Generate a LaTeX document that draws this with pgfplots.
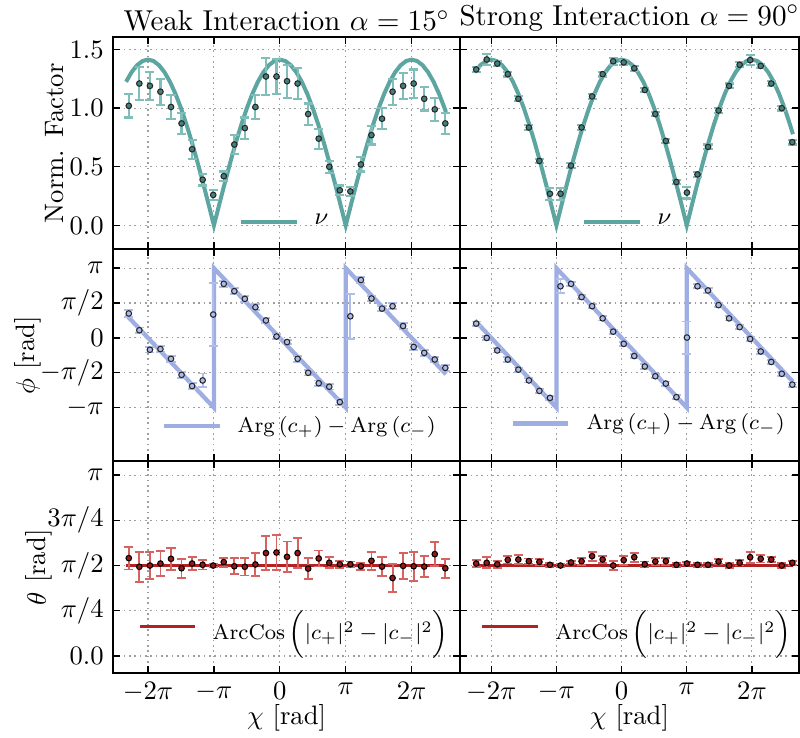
\documentclass[border=0pt]{standalone}
\usepackage{pgfplots}
\usepackage{pgfplotstable}
\pgfplotsset{compat=1.18}

\definecolor{TealLine}{RGB}{93,165,160}
\definecolor{TealBar}{RGB}{128,190,185}
\definecolor{TealMark}{RGB}{70,128,124}
\definecolor{ArgLine}{RGB}{158,174,226}
\definecolor{ArgBar}{RGB}{176,190,236}
\definecolor{ArgMark}{RGB}{175,188,232}
\definecolor{CosLine}{RGB}{178,34,34}
\definecolor{CosBar}{RGB}{214,98,98}
\definecolor{CosMark}{RGB}{150,25,25}
\definecolor{MarkEdge}{RGB}{40,40,40}

% nu = sqrt(2)|cos(chi/2)|, tabulated every pi/12
\pgfplotstableread{
x y
-7.3304 1.2247
-7.0686 1.3066
-6.8068 1.3660
-6.5450 1.4021
-6.2832 1.4142
-6.0214 1.4021
-5.7596 1.3660
-5.4978 1.3066
-5.2360 1.2247
-4.9742 1.1220
-4.7124 1.0000
-4.4506 0.8609
-4.1888 0.7071
-3.9270 0.5412
-3.6652 0.3660
-3.4034 0.1846
-3.1416 0.0000
-2.8798 0.1846
-2.6180 0.3660
-2.3562 0.5412
-2.0944 0.7071
-1.8326 0.8609
-1.5708 1.0000
-1.3090 1.1220
-1.0472 1.2247
-0.7854 1.3066
-0.5236 1.3660
-0.2618 1.4021
0.0000 1.4142
0.2618 1.4021
0.5236 1.3660
0.7854 1.3066
1.0472 1.2247
1.3090 1.1220
1.5708 1.0000
1.8326 0.8609
2.0944 0.7071
2.3562 0.5412
2.6180 0.3660
2.8798 0.1846
3.1416 0.0000
3.4034 0.1846
3.6652 0.3660
3.9270 0.5412
4.1888 0.7071
4.4506 0.8609
4.7124 1.0000
4.9742 1.1220
5.2360 1.2247
5.4978 1.3066
5.7596 1.3660
6.0214 1.4021
6.2832 1.4142
6.5450 1.4021
6.8068 1.3660
7.0686 1.3066
7.3304 1.2247
7.5922 1.1220
7.8540 1.0000
7.9200 0.9665
8.1158 0.8609
8.2600 0.7778
}\nucurve

% weak interaction: phi and theta in units of pi
\pgfplotstableread{
x n ne p pe t te
-7.200 1.02 0.10 0.35 0.05 0.541 0.063
-6.697 1.21 0.14 0.11 0.04 0.493 0.082
-6.194 1.19 0.12 -0.17 0.04 0.500 0.075
-5.691 1.14 0.11 -0.16 0.04 0.511 0.070
-5.188 1.01 0.10 -0.30 0.04 0.537 0.060
-4.685 0.87 0.09 -0.53 0.04 0.485 0.053
-4.182 0.65 0.08 -0.69 0.04 0.511 0.038
-3.679 0.39 0.05 -0.61 0.10 0.504 0.026
-3.176 0.26 0.04 0.335 0.45 0.500 0.010
-2.673 0.42 0.04 0.775 0.04 0.519 0.025
-2.170 0.69 0.08 0.67 0.04 0.496 0.044
-1.667 0.83 0.09 0.56 0.04 0.493 0.048
-1.164 1.01 0.10 0.44 0.04 0.506 0.063
-0.661 1.27 0.16 0.25 0.04 0.569 0.095
-0.158 1.27 0.15 0.02 0.03 0.572 0.096
0.345 1.23 0.14 -0.06 0.03 0.548 0.085
0.848 1.21 0.13 -0.30 0.04 0.569 0.085
1.351 0.95 0.09 -0.50 0.04 0.483 0.057
1.854 0.74 0.085 -0.65 0.04 0.539 0.044
2.357 0.50 0.05 -0.70 0.04 0.515 0.030
2.860 0.30 0.04 -0.92 0.04 0.507 0.020
3.363 0.29 0.04 0.31 0.32 0.507 0.015
3.866 0.52 0.06 0.83 0.04 0.496 0.020
4.369 0.77 0.08 0.565 0.04 0.526 0.049
4.872 0.91 0.09 0.42 0.04 0.494 0.054
5.375 1.14 0.11 0.455 0.04 0.431 0.079
5.878 1.19 0.11 0.17 0.04 0.498 0.071
6.381 1.21 0.12 -0.13 0.04 0.496 0.080
6.884 1.08 0.10 -0.215 0.04 0.494 0.057
7.387 0.99 0.10 -0.31 0.04 0.563 0.065
7.890 0.87 0.09 -0.43 0.04 0.485 0.053
}\weak

% strong interaction
\pgfplotstableread{
x n ne p pe t te
-7.010 1.33 0.02 0.205 0.03 0.511 0.020
-6.502 1.415 0.05 0.000 0.03 0.515 0.030
-5.994 1.38 0.02 -0.18 0.03 0.507 0.020
-5.486 1.29 0.02 -0.31 0.03 0.531 0.020
-4.978 1.08 0.02 -0.455 0.03 0.533 0.025
-4.470 0.835 0.02 -0.61 0.03 0.524 0.015
-3.962 0.55 0.02 -0.76 0.03 0.520 0.015
-3.454 0.27 0.05 -0.86 0.03 0.504 0.010
-2.946 0.27 0.05 0.74 0.10 0.500 0.010
-2.438 0.51 0.02 0.775 0.03 0.517 0.010
-1.930 0.835 0.02 0.585 0.03 0.524 0.020
-1.422 1.10 0.02 0.455 0.03 0.552 0.025
-0.914 1.29 0.02 0.28 0.03 0.533 0.020
-0.406 1.40 0.03 0.09 0.03 0.500 0.025
0.102 1.39 0.02 -0.085 0.03 0.530 0.025
0.610 1.34 0.02 -0.26 0.03 0.546 0.025
1.118 1.155 0.02 -0.41 0.03 0.507 0.015
1.626 0.95 0.02 -0.55 0.03 0.522 0.020
2.134 0.72 0.02 -0.655 0.03 0.524 0.020
2.642 0.37 0.02 -0.85 0.03 0.504 0.010
3.150 0.28 0.05 0.005 0.23 0.511 0.010
3.658 0.435 0.02 0.74 0.03 0.504 0.010
4.166 0.67 0.02 0.68 0.03 0.504 0.010
4.674 0.98 0.02 0.47 0.03 0.522 0.015
5.182 1.19 0.02 0.28 0.03 0.500 0.015
5.690 1.37 0.02 0.155 0.03 0.515 0.015
6.198 1.41 0.04 -0.015 0.03 0.546 0.030
6.706 1.36 0.02 -0.195 0.03 0.537 0.020
7.214 1.21 0.02 -0.345 0.03 0.533 0.015
7.722 1.00 0.02 -0.515 0.03 0.500 0.015
8.230 0.71 0.02 -0.67 0.03 0.515 0.010
}\strong

\pgfplotsset{
  panel/.style={
    scale only axis,
    height=79.5pt,
    anchor=south west,
    grid=major,
    grid style={gray!75, line width=0.4pt, dash pattern=on 0.6pt off 1.4pt},
    axis line style={black, line width=0.7pt},
    major tick style={black, line width=0.5pt},
    major tick length=2.6pt,
    xtick={-6.2832,-3.1416,0,3.1416,6.2832},
    xticklabels={},
    legend cell align=left,
    legend image code/.code={\draw[#1] (0cm,0cm) -- (0.73cm,0cm);},
    legend style={draw=none, fill=none, inner sep=0pt, column sep=4pt,
      font=\fontsize{8.6}{10}\selectfont},
  },
  leftcol/.style={panel, width=130.1pt, xmin=-7.95, xmax=8.59},
  rightcol/.style={panel, width=127.1pt, xmin=-7.79, xmax=8.55},
  noylabels/.style={yticklabels={}},
  toprow/.style={ymin=-0.204, ymax=1.604, ytick={0,0.5,1,1.5},
    yticklabel style={/pgf/number format/.cd, fixed, fixed zerofill, precision=1},
    title style={font=\fontsize{10.8}{13}\selectfont, yshift=-7.3pt},
    legend style={at={(0.5,0.13)}, anchor=center}},
  midrow/.style={ymin=-1.77, ymax=1.27, ytick={-1,-0.5,0,0.5,1},
    yticklabels={$-\pi$,$-\pi/2$,$0$,$\pi/2$,$\pi$},
    legend style={font=\fontsize{8.25}{10}\selectfont}},
  botrow/.style={ymin=-0.096, ymax=1.076, ytick={0,0.25,0.5,0.75,1},
    yticklabels={$0.0$,$\pi/4$,$\pi/2$,$3\pi/4$,$\pi$},
    xticklabels={$-2\pi$,$-\pi$,$0$,$\pi$,$2\pi$},
    xlabel={$\chi$ [rad]}, xlabel style={yshift=6pt},
    legend style={font=\fontsize{8.2}{10}\selectfont}},
  numarks/.style={only marks, mark=*, mark size=1.05pt,
    mark options={fill=TealMark, draw=MarkEdge, line width=0.4pt},
    error bars/y dir=both, error bars/y explicit,
    error bars/error bar style={TealBar, line width=0.8pt},
    error bars/error mark options={TealBar, line width=0.8pt, mark size=1.7pt, rotate=90}},
  argmarks/.style={only marks, mark=*, mark size=1.05pt,
    mark options={fill=ArgMark, draw=MarkEdge, line width=0.4pt},
    error bars/y dir=both, error bars/y explicit,
    error bars/error bar style={ArgBar, line width=0.7pt},
    error bars/error mark options={ArgBar, line width=0.7pt, mark size=1.7pt, rotate=90}},
  cosmarks/.style={only marks, mark=*, mark size=1.05pt,
    mark options={fill=CosMark, draw=black, line width=0.4pt},
    error bars/y dir=both, error bars/y explicit,
    error bars/error bar style={CosBar, line width=0.7pt},
    error bars/error mark options={CosBar, line width=0.7pt, mark size=1.7pt, rotate=90}},
}

\begin{document}
\begin{tikzpicture}
\useasboundingbox (-42.4pt,-24.1pt) rectangle (257.6pt,252.5pt);

% ---- top row: normalisation factor
\begin{axis}[leftcol, toprow, at={(0pt,159pt)},
  title={Weak Interaction $\alpha = 15^\circ$}, ylabel={Norm. Factor},
  ylabel style={at={(axis description cs:-0.17,0.5)}, anchor=center}]
  \addplot[TealLine, line width=1.5pt, restrict x to domain=-7.34:7.93] table {\nucurve};
  \addlegendentry{$\nu$}
  \addplot[numarks, forget plot] table[x=x, y=n, y error=ne] {\weak};
\end{axis}
\begin{axis}[rightcol, toprow, noylabels, at={(130.1pt,159pt)},
  title={Strong Interaction $\alpha = 90^\circ$}]
  \addplot[TealLine, line width=1.5pt, restrict x to domain=-7.07:8.27] table {\nucurve};
  \addlegendentry{$\nu$}
  \addplot[numarks, forget plot] table[x=x, y=n, y error=ne] {\strong};
\end{axis}

% ---- middle row: relative phase
\begin{axis}[leftcol, midrow, at={(0pt,79.5pt)}, ylabel={$\phi$ [rad]},
  ylabel style={at={(axis description cs:-0.245,0.5)}, anchor=center},
  legend style={at={(0.947,0.166)}, anchor=east}]
  \addplot[ArgLine, line width=1.6pt] coordinates {
    (-7.33,0.3333) (-3.1416,-1) (-3.1416,1) (3.1416,-1) (3.1416,1) (7.92,-0.521)};
  \addlegendentry{$\mathrm{Arg}\,(c_{+}) - \mathrm{Arg}\,(c_{-})$}
  \addplot[argmarks, forget plot] table[x=x, y=p, y error=pe] {\weak};
\end{axis}
\begin{axis}[rightcol, midrow, noylabels, at={(130.1pt,79.5pt)},
  legend style={at={(0.975,0.179)}, anchor=east}]
  \addplot[ArgLine, line width=1.6pt] coordinates {
    (-7.0686,0.25) (-3.1416,-1) (-3.1416,1) (3.1416,-1) (3.1416,1) (8.26,-0.629)};
  \addlegendentry{$\mathrm{Arg}\,(c_{+}) - \mathrm{Arg}\,(c_{-})$}
  \addplot[argmarks, forget plot] table[x=x, y=p, y error=pe] {\strong};
\end{axis}

% ---- bottom row: polar angle
\begin{axis}[leftcol, botrow, at={(0pt,0pt)}, ylabel={$\theta$ [rad]},
  ylabel style={at={(axis description cs:-0.213,0.5)}, anchor=center},
  legend style={at={(0.984,0.222)}, anchor=east}]
  \addplot[CosLine, line width=1.3pt] coordinates {(-7.33,0.5) (7.92,0.5)};
  \addlegendentry{$\mathrm{ArcCos}\,\Bigl(|c_{+}|^2 - |c_{-}|^2\Bigr)$}
  \addplot[cosmarks, forget plot] table[x=x, y=t, y error=te] {\weak};
\end{axis}
\begin{axis}[rightcol, botrow, noylabels, at={(130.1pt,0pt)},
  legend style={at={(0.995,0.222)}, anchor=east}]
  \addplot[CosLine, line width=1.3pt] coordinates {(-7.07,0.5) (8.26,0.5)};
  \addlegendentry{$\mathrm{ArcCos}\,\Bigl(|c_{+}|^2 - |c_{-}|^2\Bigr)$}
  \addplot[cosmarks, forget plot] table[x=x, y=t, y error=te] {\strong};
\end{axis}
\end{tikzpicture}
\end{document}
